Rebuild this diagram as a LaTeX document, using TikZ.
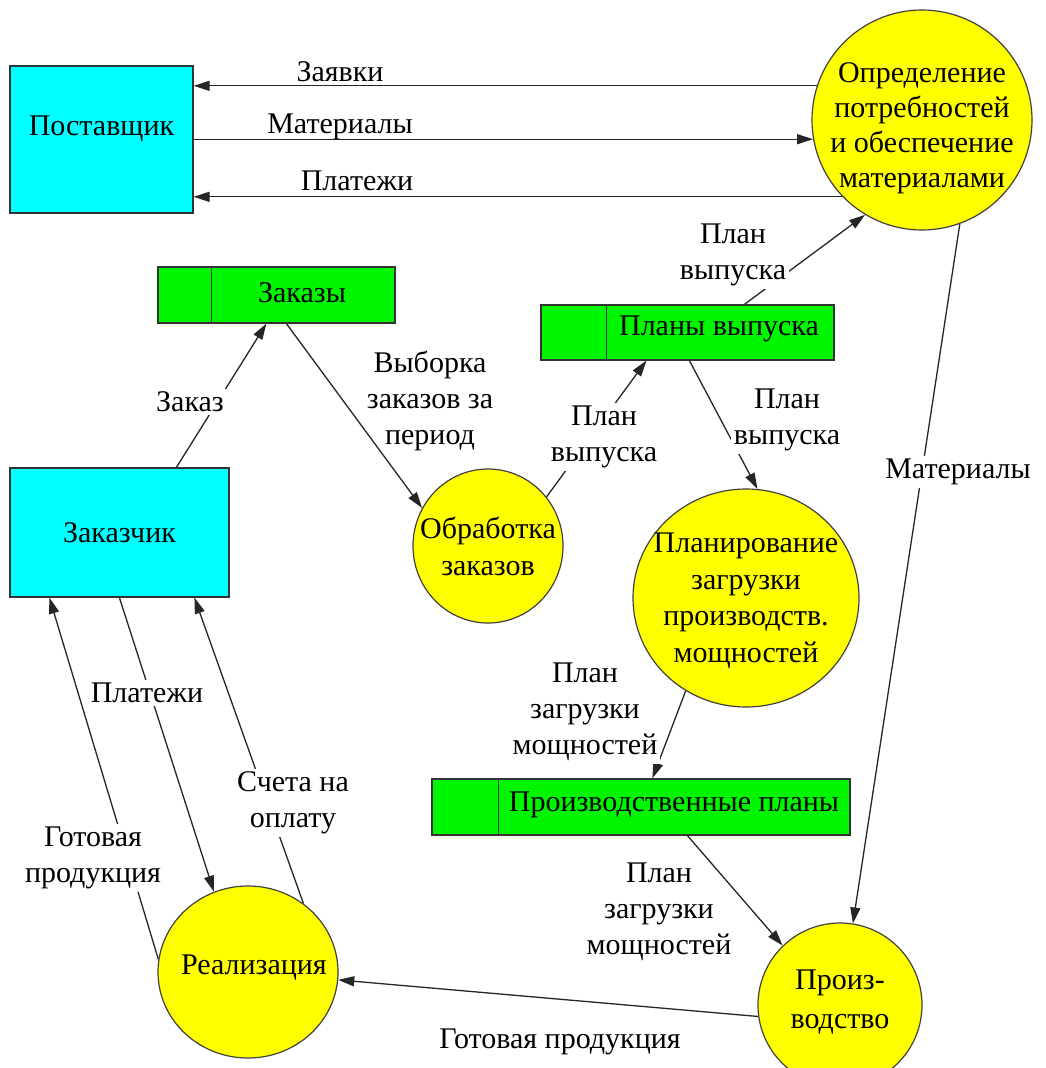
\documentclass[tikz,border=0pt]{standalone}
\usepackage{fontspec}
\setmainfont{Liberation Serif}
\usetikzlibrary{arrows.meta,shapes.geometric,calc}
\definecolor{extcyan}{RGB}{0,255,255}
\definecolor{storegreen}{RGB}{0,245,0}
\definecolor{procyellow}{RGB}{255,255,0}
\pgfdeclarelayer{bg}
\pgfsetlayers{bg,main}
\begin{document}
\begin{tikzpicture}[x=1pt,y=-1pt,
  font=\fontsize{30}{36}\selectfont,
  ext/.style={rectangle, draw=black!80, fill=extcyan, line width=1.2pt, inner sep=0pt},
  proc/.style={ellipse, draw=black!75, fill=procyellow, line width=1.2pt, inner sep=0pt},
  ptext/.style={align=center, inner sep=0pt},
  store/.style={rectangle, draw=black!80, fill=storegreen, line width=1.2pt, inner sep=0pt},
  divline/.style={draw=black!80, line width=1.2pt},
  flow/.style={draw=black!85, line width=1.3pt, -{Triangle[length=16pt,width=10pt]}},
  lbl/.style={inner sep=1pt, align=center},
  lblc/.style={lbl, fill=white, inner sep=3pt}]
\begin{pgfonlayer}{bg}
\fill[white] (0,0) rectangle (1046,1068);
\end{pgfonlayer}
\useasboundingbox (0,0) rectangle (1046,1068);

% external entities
\node[ext, minimum width=183, minimum height=147, label={[lbl,yshift=11pt]center:Поставщик}] (post) at (101.5,139.5) {};
\node[ext, minimum width=219, minimum height=129] (zakazchik) at (119.5,532.5) {Заказчик};

% processes
\node[proc, minimum width=220, minimum height=220,
  label={[ptext,yshift=-8pt,font=\fontsize{30}{35}\selectfont]center:Определение\\потребностей\\и обеспечение\\материалами}] (opr) at (922,120) {};
\node[proc, minimum width=150, minimum height=154,
  label={[ptext,font=\fontsize{30}{37}\selectfont]center:Обработка\\заказов}] (obrab) at (488,546) {};
\node[proc, minimum width=226, minimum height=218,
  label={[ptext,yshift=-3pt,font=\fontsize{30}{36.5}\selectfont]center:Планирование\\загрузки\\производств.\\мощностей}] (plan) at (746,598) {};
\node[proc, minimum width=164, minimum height=164,
  label={[ptext,yshift=3pt,font=\fontsize{30}{39}\selectfont]center:Произ-\\водство}] (prod) at (840,1005) {};
\node[proc, minimum width=180, minimum height=172,
  label={[ptext,xshift=6pt,yshift=4pt]center:Реализация}] (real) at (248,972) {};

% data stores
\node[store, minimum width=237, minimum height=56] (zakazy) at (276.5,295) {};
\draw[divline] ($(zakazy.north west)+(54,0)$) -- ($(zakazy.south west)+(54,0)$);
\node (zakazyt) at (302,293) {Заказы};

\node[store, minimum width=293, minimum height=55] (planyv) at (687.5,332.5) {};
\draw[divline] ($(planyv.north west)+(66,0)$) -- ($(planyv.south west)+(66,0)$);
\node (planyvt) at (719,329) {Планы выпуска};

\node[store, minimum width=418, minimum height=56] (prplany) at (641,807) {};
\draw[divline] ($(prplany.north west)+(67,0)$) -- ($(prplany.south west)+(67,0)$);
\node (prplanyt) at (674,805) {Производственные планы};

\begin{pgfonlayer}{bg}
% flows
\draw[flow] (opr.162) -- (opr.162 -| post.east);
\draw[flow] (opr.190 -| post.east) -- (opr.190);
\draw[flow] (opr.224) -- (opr.224 -| post.east);
\draw[flow] ($(planyv.north west)+(204,0)$) -- (opr.239);
\draw[flow] (opr.290) -- (prod.81);
\draw[flow] ($(zakazchik.north west)+(167,0)$) -- ($(zakazy.south west)+(109,0)$);
\draw[flow] ($(zakazy.south west)+(129,0)$) -- (obrab.150);
\draw[flow] (obrab.40) -- ($(planyv.south west)+(106,0)$);
\draw[flow] ($(planyv.south west)+(149,0)$) -- (plan.84);
\draw[flow] (plan.237) -- ($(prplany.north west)+(221,0)$);
\draw[flow] ($(prplany.south west)+(256,0)$) -- (prod.134);
\draw[flow] (prod.188) -- (real.355);
\draw[flow] (real.172) -- ($(zakazchik.south west)+(40,0)$);
\draw[flow] ($(zakazchik.south west)+(110,0)$) -- (real.113);
\draw[flow] (real.51) -- ($(zakazchik.south west)+(185,0)$);

% flow labels
\node[lbl] (l1) at (340,72) {Заявки};
\node[lbl] (l2) at (340,127) {Материалы};
\node[lbl] (l3) at (357,181) {Платежи};
\node[lblc] (l4) at (733,255) {План\\выпуска};
\node[lblc] (l5) at (958,472) {Материалы};
\node[lblc] (l6) at (190,402) {Заказ};
\node[lbl] (l7) at (430,401) {Выборка\\заказов за\\период};
\node[lblc] (l8) at (604,437) {План\\выпуска};
\node[lblc] (l9) at (787,420) {План\\выпуска};
\node[lblc] (l10) at (585,712) {План\\загрузки\\мощностей};
\node[lbl] (l11) at (659,912) {План\\загрузки\\мощностей};
\node[lbl] (l12) at (560,1042) {Готовая продукция};
\node[lblc] (l13) at (147,693) {Платежи};
\node[lblc] (l14) at (93,858) {Готовая\\продукция};
\node[lblc] (l15) at (293,803) {Счета на\\оплату};
\end{pgfonlayer}
\end{tikzpicture}
\end{document}
